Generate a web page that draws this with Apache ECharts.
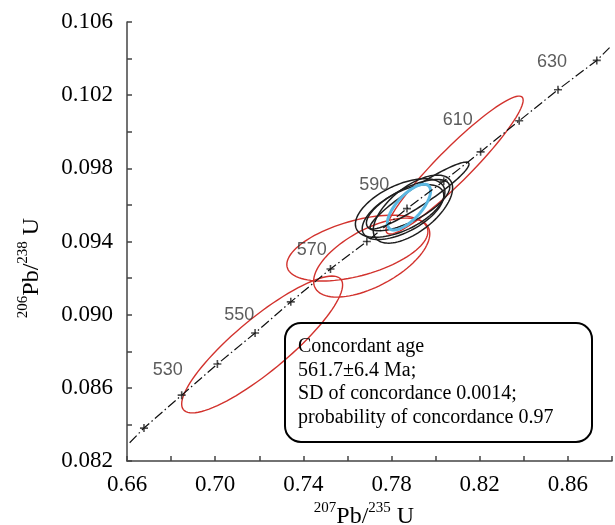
<!DOCTYPE html>
<html>
<head>
<meta charset="utf-8">
<script src="https://cdn.jsdelivr.net/npm/echarts@6/dist/echarts.min.js"></script>
<style>
  html, body { margin: 0; padding: 0; background: #fff; }
  #chart { width: 615px; height: 525px; }
</style>
</head>
<body>
<div id="chart"></div>
<script>
// concordia markers (Ma)
var markerAges = [520, 530, 540, 550, 560, 570, 580, 590, 600, 610, 620, 630, 640];
var markerX = [0.6677, 0.6848, 0.7010, 0.7181, 0.7343, 0.7523, 0.7688, 0.7870, 0.8037, 0.8204, 0.8379, 0.8555, 0.8731];
var markerY = [0.0838, 0.0856, 0.0873, 0.0890, 0.0907, 0.0925, 0.0940, 0.0958, 0.0973, 0.0989, 0.1006, 0.1023, 0.1039];

// ends of the concordia line
var lineEndX = [0.6612, 0.8789];
var lineEndY = [0.0830, 0.1046];

// age labels
var labelAges = [530, 550, 570, 590, 610, 630];
var labelX = [0.6785, 0.7109, 0.7438, 0.7722, 0.8100, 0.8528];
var labelY = [0.08697, 0.08998, 0.09356, 0.09711, 0.10063, 0.10383];

// error ellipses: centre, half widths, correlation
var ellGroup = ['red', 'red', 'red', 'red', 'black', 'black', 'black', 'black', 'black', 'blue'];
var ellCx  = [0.7213, 0.8086, 0.7645, 0.7710, 0.7927, 0.7839, 0.7897, 0.7875, 0.7852, 0.7879];
var ellCy  = [0.08837, 0.09818, 0.09364, 0.09312, 0.09651, 0.09583, 0.09577, 0.09599, 0.09561, 0.09588];
var ellSx  = [0.0365, 0.0311, 0.0320, 0.02635, 0.02243, 0.0203, 0.0180, 0.0189, 0.0185, 0.0098];
var ellSy  = [0.00374, 0.00377, 0.00180, 0.00216, 0.00183, 0.00160, 0.00186, 0.00140, 0.00150, 0.00125];
var ellRho = [0.87, 0.94, 0.50, 0.60, 0.94, 0.55, 0.62, 0.70, 0.60, 0.70];

var xTickLabels = ['0.66', '0.70', '0.74', '0.78', '0.82', '0.86'];
var yTickLabels = ['0.082', '0.086', '0.090', '0.094', '0.098', '0.102', '0.106'];

var groupStyle = {
  red: { stroke: '#d2322d', lineWidth: 1.4 },
  black: { stroke: '#1e1e1e', lineWidth: 1.5 },
  blue: { stroke: '#5bb8e2', lineWidth: 3 }
};

var chart = echarts.init(document.getElementById('chart'));

function ellipseSeries(group) {
  var data = [];
  for (var i = 0; i < ellGroup.length; i++) {
    if (ellGroup[i] === group) data.push([ellCx[i], ellCy[i], ellSx[i], ellSy[i], ellRho[i]]);
  }
  return {
    type: 'custom',
    silent: true,
    encode: { x: 0, y: 1 },
    data: data,
    renderItem: function (params, api) {
      var cx = api.value(0), cy = api.value(1);
      var sx = api.value(2), sy = api.value(3), r = api.value(4);
      var q = Math.sqrt(1 - r * r);
      var pts = [];
      for (var k = 0; k < 96; k++) {
        var t = k / 96 * Math.PI * 2;
        pts.push(api.coord([cx + sx * Math.cos(t), cy + sy * (r * Math.cos(t) + q * Math.sin(t))]));
      }
      return {
        type: 'polygon',
        shape: { points: pts },
        style: { fill: 'none', stroke: groupStyle[group].stroke, lineWidth: groupStyle[group].lineWidth }
      };
    }
  };
}

var linePts = [[lineEndX[0], lineEndY[0]]];
var markerPts = [];
for (var i = 0; i < markerAges.length; i++) {
  linePts.push([markerX[i], markerY[i]]);
  markerPts.push([markerX[i], markerY[i], markerAges[i]]);
}
linePts.push([lineEndX[1], lineEndY[1]]);

var labelPts = labelAges.map(function (a, i) { return [labelX[i], labelY[i], a]; });

var serif = '"Liberation Serif", "Times New Roman", serif';
var axisColor = '#444';

var option = {
  animation: false,
  grid: { left: 127, top: 22, right: 0, bottom: 64 },
  xAxis: {
    type: 'value',
    min: 0.66,
    max: 0.88,
    interval: 0.02,
    axisLine: { onZero: false, lineStyle: { color: axisColor, width: 1.5 } },
    axisTick: { inside: true, length: 5, lineStyle: { color: axisColor, width: 1.5 } },
    splitLine: { show: false },
    axisLabel: {
      margin: 12,
      color: '#000',
      fontFamily: serif,
      fontSize: 23,
      formatter: function (v) {
        var s = v.toFixed(2);
        return xTickLabels.indexOf(s) >= 0 ? s : '';
      }
    }
  },
  yAxis: {
    type: 'value',
    min: 0.082,
    max: 0.106,
    interval: 0.002,
    axisLine: { onZero: false, lineStyle: { color: axisColor, width: 1.5 } },
    axisTick: { inside: true, length: 5, lineStyle: { color: axisColor, width: 1.5 } },
    splitLine: { show: false },
    axisLabel: {
      margin: 14,
      color: '#000',
      fontFamily: serif,
      fontSize: 23,
      formatter: function (v) {
        var s = v.toFixed(3);
        return yTickLabels.indexOf(s) >= 0 ? s : '';
      }
    }
  },
  series: [
    ellipseSeries('red'),
    ellipseSeries('black'),
    ellipseSeries('blue'),
    {
      type: 'line',
      data: linePts,
      symbol: 'none',
      silent: true,
      lineStyle: { color: '#111', width: 1.2, type: [10, 3, 1.5, 3] }
    },
    {
      type: 'scatter',
      data: markerPts,
      symbol: 'path://M4,0L6,0L6,4L10,4L10,6L6,6L6,10L4,10L4,6L0,6L0,4L4,4Z',
      symbolSize: 8,
      itemStyle: { color: '#222' },
      silent: true
    },
    {
      type: 'scatter',
      data: labelPts,
      symbolSize: 0,
      silent: true,
      label: {
        show: true,
        position: 'inside',
        formatter: function (p) { return p.value[2]; },
        fontFamily: '"Liberation Sans", Arial, sans-serif',
        fontSize: 18,
        color: '#333'
      }
    }
  ],
  graphic: [
    {
      type: 'rect',
      shape: { x: 285, y: 323, width: 307, height: 119, r: 16 },
      style: { fill: 'none', stroke: '#000', lineWidth: 2 },
      z: 100
    },
    {
      type: 'text',
      x: 298,
      y: 335,
      z: 100,
      style: {
        text: 'Concordant age\n561.7±6.4 Ma;\nSD of concordance 0.0014;\nprobability of concordance 0.97',
        font: '20px ' + serif,
        lineHeight: 23.5,
        fill: '#000'
      }
    },
    {
      type: 'text',
      x: 364,
      y: 515,
      style: {
        text: '{s|207}{m|Pb/}{s|235}{m| U}',
        align: 'center',
        verticalAlign: 'middle',
        rich: {
          s: { fontFamily: serif, fontSize: 15, lineHeight: 15, verticalAlign: 'top', fill: '#000' },
          m: { fontFamily: serif, fontSize: 24, lineHeight: 28, verticalAlign: 'bottom', fill: '#000' }
        }
      }
    },
    {
      type: 'text',
      x: 30,
      y: 268,
      rotation: Math.PI / 2,
      style: {
        text: '{s|206}{m|Pb/}{s|238}{m| U}',
        align: 'center',
        verticalAlign: 'middle',
        rich: {
          s: { fontFamily: serif, fontSize: 15, lineHeight: 15, verticalAlign: 'top', fill: '#000' },
          m: { fontFamily: serif, fontSize: 24, lineHeight: 28, verticalAlign: 'bottom', fill: '#000' }
        }
      }
    }
  ]
};

chart.setOption(option);

window.onresize = function () {
  chart.resize();
};
</script>
</body>
</html>
